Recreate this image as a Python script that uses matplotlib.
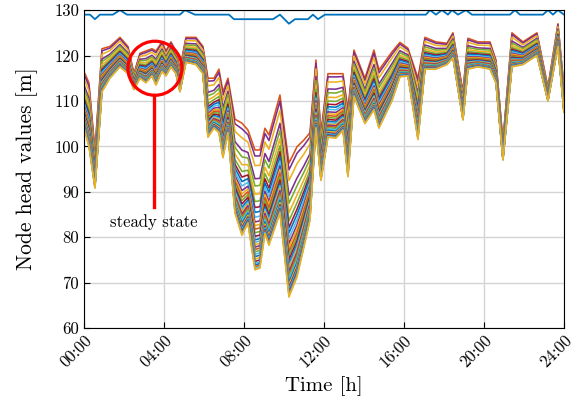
import matplotlib
matplotlib.use("agg")
import matplotlib.pyplot as plt
from matplotlib.patches import Ellipse
import numpy as np

plt.rcParams['font.family'] = ['cmr10', 'DejaVu Serif']
plt.rcParams['axes.unicode_minus'] = False

# vertex times [h] shared by all node curves
t = [0.0, 0.25, 0.55, 0.9, 1.3, 1.8, 2.2, 2.5, 2.8, 3.1, 3.4, 3.6, 3.9, 4.1,
     4.35, 4.6, 4.8, 5.1, 5.6, 5.95, 6.2, 6.5, 6.75, 6.95, 7.2, 7.55, 7.9,
     8.2, 8.55, 8.8, 9.05, 9.25, 9.8, 10.25, 10.65, 11.0, 11.3, 11.6, 11.85,
     12.2, 12.6, 12.95, 13.2, 13.5, 14.05, 14.5, 14.75, 15.4, 15.8, 16.2,
     16.7, 17.05, 17.6, 18.15, 18.45, 18.95, 19.2, 19.7, 20.3, 20.6, 20.95,
     21.4, 21.95, 22.65, 23.2, 23.7, 24.0]

# highest node head (top curve)
upper = [116.5, 114, 99, 121.5, 122, 124, 122, 116, 120.5, 121, 121.5, 121,
         123, 121, 123, 121, 117, 124, 124, 122, 115, 115, 117, 112, 115,
         106, 105.1, 103.6, 99.2, 99.2, 104, 102.5, 111.3, 96.3, 99.9, 101.4,
         103, 119, 103, 116, 116, 116, 108, 121.2, 115, 121.2, 116.8, 120.8,
         122.9, 121.6, 115, 124, 123, 122.7, 125, 112, 123.8, 123, 123, 119,
         101, 125, 123, 125, 113, 127, 113]

# lowest node head (bottom curve)
lower = [104, 100, 90.8, 112, 115, 117.5, 116, 112.5, 115, 114, 115.5, 113.5,
         116.5, 115.5, 117.5, 116, 112, 118.5, 118, 116, 102, 104, 103, 97.5,
         103, 85.3, 80.4, 83, 72.8, 73.2, 80.8, 78.2, 85.3, 66.8, 71.2, 77.8,
         83.7, 104, 92.5, 102, 101.8, 103.5, 93.3, 111, 105, 108, 104, 110,
         115.3, 115.5, 101.5, 117, 117, 118, 119.5, 105.8, 117, 117.5, 117,
         114, 97, 117.5, 118, 120, 110, 122, 107.5]

# relative position of each node between top and bottom curve
node_pos = [0.0, 0.05, 0.13, 0.24, 0.30, 0.37, 0.43, 0.48, 0.52, 0.56, 0.60,
            0.63, 0.66, 0.69, 0.72, 0.75, 0.77, 0.79, 0.81, 0.83, 0.85, 0.87,
            0.89, 0.91, 0.93, 0.945, 0.96, 0.975, 0.99, 1.0]

node_colors = ['#D95319', '#7E2F8E', '#EDB120', '#7E2F8E', '#77AC30',
               '#EDB120', '#77AC30', '#A2142F', '#0072BD', '#4DBEEE',
               '#7E2F8E', '#EDB120', '#D95319', '#77AC30', '#A2142F',
               '#0072BD', '#4DBEEE', '#EDB120', '#7E2F8E', '#D95319',
               '#77AC30', '#4DBEEE', '#0072BD', '#EDB120', '#A2142F',
               '#4DBEEE', '#0072BD', '#D95319', '#4DBEEE', '#EDB120']

# tank head
t_tank = [0.0, 0.3, 0.55, 0.8, 1.45, 1.8, 2.15, 4.8, 5.05, 5.55, 7.25, 7.5,
          9.45, 9.8, 10.25, 10.55, 11.2, 11.45, 11.7, 12.05, 17.1, 17.3, 17.6,
          17.9, 18.2, 18.4, 18.7, 19.1, 19.4, 19.7, 21.3, 21.55, 21.8, 22.95,
          23.2, 23.45, 23.7, 24.0]
tank = [129, 129, 128, 129, 129, 130, 129, 129, 130, 129, 129, 128,
        128, 129, 127, 128, 128, 129, 128, 129, 129, 130, 129,
        130, 129, 130, 129, 130, 129, 129, 129, 130, 129, 129,
        130, 129, 130, 129]

xticks = [0, 4, 8, 12, 16, 20, 24]
xticklabels = ['00:00', '04:00', '08:00', '12:00', '16:00', '20:00', '24:00']

fig = plt.figure(figsize=(5.79, 4.04), dpi=100)
ax = fig.add_axes([0.145, 0.188, 0.829, 0.787])

up = np.array(upper)
lo = np.array(lower)
for w, c in zip(node_pos, node_colors):
    ax.plot(t, up - w * (up - lo), color=c, lw=1.15)
ax.plot(t_tank, tank, color='#0072BD', lw=1.3)

# steady state marker
ax.add_patch(Ellipse((3.55, 117.2), 2.7, 11.9, fill=False, ec='red', lw=2.3, zorder=5))
ax.plot([3.5, 3.5], [111.3, 86.6], color='red', lw=2.4, zorder=5)
ax.text(3.5, 83.3, 'steady state', ha='center', va='center', fontsize=12)

ax.set_xlim(0, 24)
ax.set_ylim(60, 130)
ax.set_xticks(xticks)
ax.set_xticklabels(xticklabels, rotation=45, ha='right', rotation_mode='anchor')
ax.set_yticks(range(60, 131, 10))
ax.tick_params(direction='in', labelsize=12, length=4)
ax.grid(True, color='#d4d4d4', lw=1)
ax.set_axisbelow(True)
ax.set_xlabel('Time [h]', fontsize=15)
ax.set_ylabel('Node head values [m]', fontsize=15.5, labelpad=12)

plt.savefig('out.png', dpi=100)
plt.close()
